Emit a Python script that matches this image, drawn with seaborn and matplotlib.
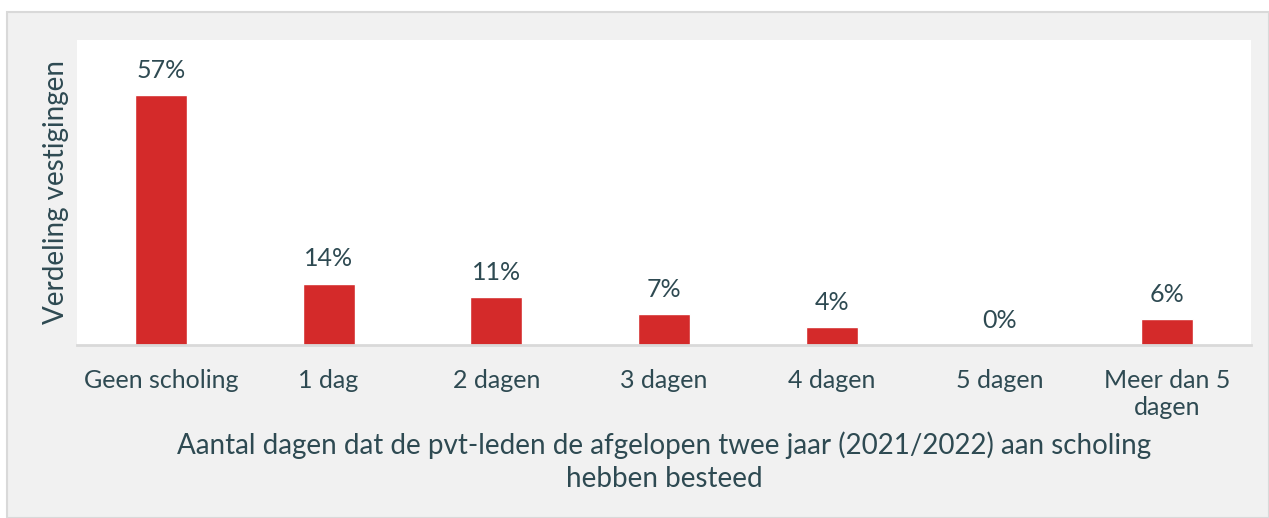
import matplotlib
matplotlib.use("Agg")
import matplotlib.pyplot as plt
import seaborn as sns
import pandas as pd
from matplotlib.patches import Rectangle

categories = ["Geen scholing", "1 dag", "2 dagen", "3 dagen", "4 dagen",
              "5 dagen", "Meer dan 5\ndagen"]
values = [57, 14, 11, 7, 4, 0, 6]
labels = ["57%", "14%", "11%", "7%", "4%", "0%", "6%"]

text_color = "#2e4a52"
bar_color = "#d42a2a"

sns.set_theme(style="white")
plt.rcParams['font.family'] = ['Lato', 'DejaVu Sans']

fig = plt.figure(figsize=(12.69, 5.18), dpi=100)
fig.patch.set_facecolor("white")
# gray panel behind the chart
fig.patches.append(Rectangle((7 / 1269, 0), 1 - 7 / 1269, 1 - 12 / 518,
                             transform=fig.transFigure, facecolor="#f1f1f1",
                             edgecolor="#d9d9d9", linewidth=1.5, zorder=-1))

ax = fig.add_axes([77 / 1269, 173 / 518, 1174 / 1269, 305 / 518])
ax.set_facecolor("white")

df = pd.DataFrame({"cat": categories, "val": values})
sns.barplot(data=df, x="cat", y="val", color=bar_color, saturation=1,
            width=0.31, ax=ax)

for i, (v, lab) in enumerate(zip(values, labels)):
    ax.text(i, v + 3.0, lab, ha="center", va="bottom", fontsize=18,
            color=text_color)

ax.set_ylim(0, 69.5)
ax.set_yticks([])
ax.set_ylabel("Verdeling vestigingen", fontsize=20, color=text_color, labelpad=6)
ax.set_xlabel("Aantal dagen dat de pvt-leden de afgelopen twee jaar (2021/2022) aan scholing\nhebben besteed",
              fontsize=20, color=text_color, labelpad=9, linespacing=1.3)
ax.tick_params(axis="x", length=0, pad=17, labelsize=18, labelcolor=text_color)
for t in ax.get_xticklabels():
    t.set_linespacing(1.25)

for s in ["top", "left", "right"]:
    ax.spines[s].set_visible(False)
ax.spines["bottom"].set_color("#d9d9d9")
ax.spines["bottom"].set_linewidth(2)

fig.savefig("out.png", dpi=100, facecolor=fig.get_facecolor())
